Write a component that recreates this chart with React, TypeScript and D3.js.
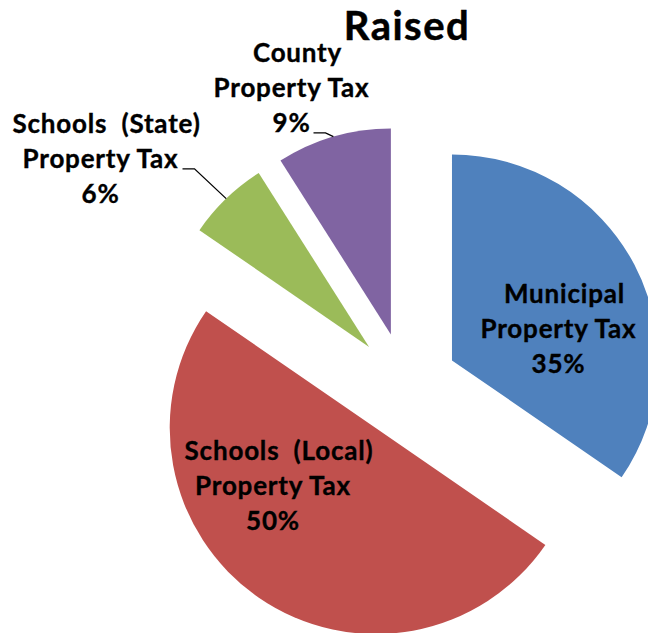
import React from "react";
import * as d3 from "d3";

const categories = ["Municipal", "Schools  (Local)", "Schools  (State)", "County"];
const subLabels = ["Property Tax", "Property Tax", "Property Tax", "Property Tax"];
const values = [34.6, 50.0, 6.4, 9.0];
const colors = ["#4F81BD", "#C0504D", "#9BBB59", "#8064A2"];
const titleText = "Raised";

const W = 648;
const H = 633;
const CX = 405.5;
const CY = 384.8;
const R = 206;
const EXPLODE = 52.5;
const FONT = "Lato, 'Open Sans', sans-serif";
const LINE = 35;

// label layout (relative to pie center): middle-line baseline position
const labelPos: [number, number][] = [
  [153, -47],
  [-132.5, 110],
  [-305, -217],
  [-114, -288],
];
// leader line start offsets relative to label (dx from center, which line)
const leaders: ({ dx: number; line: number } | null)[] = [null, null, { dx: 82, line: 1 }, { dx: 22, line: 2 }];

export default function App() {
  const total = d3.sum(values);
  const pie = d3
    .pie<number>()
    .sort(null)
    .startAngle(0)
    .endAngle(2 * Math.PI)
    .value((d) => d);
  const arcs = pie(values);
  const arcGen = d3.arc<d3.PieArcDatum<number>>().innerRadius(0).outerRadius(R);

  return (
    <svg
      width={W}
      height={H}
      style={{ position: "fixed", left: 0, top: 0, display: "block", background: "#fff" }}
    >
      <text
        x={407}
        y={40}
        textAnchor="middle"
        fontFamily={FONT}
        fontWeight="bold"
        fontSize={40}
        letterSpacing={1.5}
        stroke="#000"
        strokeWidth={0.5}
        fill="#000"
      >
        {titleText}
      </text>
      <g transform={`translate(${CX},${CY})`}>
        {arcs.map((a, i) => {
          const mid = (a.startAngle + a.endAngle) / 2;
          const ox = EXPLODE * Math.sin(mid);
          const oy = -EXPLODE * Math.cos(mid);
          return (
            <path
              key={i}
              d={arcGen(a) || ""}
              transform={`translate(${ox},${oy})`}
              fill={colors[i]}
            />
          );
        })}
        {arcs.map((a, i) => {
          const [lx, ly] = labelPos[i];
          const pct = `${Math.round((values[i] / total) * 100)}%`;
          const lines = [categories[i], subLabels[i], pct];
          const ld = leaders[i];
          let leader = null;
          if (ld) {
            const mid = (a.startAngle + a.endAngle) / 2;
            const px = (EXPLODE + R) * Math.sin(mid);
            const py = -(EXPLODE + R) * Math.cos(mid);
            const sx = lx + ld.dx;
            const sy = ly + (ld.line - 1) * LINE + 1;
            leader = (
              <polyline
                points={`${sx},${sy} ${sx + 12},${sy} ${px},${py}`}
                fill="none"
                stroke="#000"
                strokeWidth={1.3}
              />
            );
          }
          return (
            <g key={"l" + i}>
              {leader}
              {lines.map((t, j) => (
                <text
                  key={j}
                  x={lx + (j === 0 ? 6 : 0)}
                  y={ly + (j - 1) * LINE}
                  textAnchor="middle"
                  fontFamily={FONT}
                  fontWeight="bold"
                  fontSize={26}
                  letterSpacing={0.8}
                  stroke="#000"
                  strokeWidth={0.35}
                  fill="#000"
                  style={{ whiteSpace: "pre" }}
                >
                  {t}
                </text>
              ))}
            </g>
          );
        })}
      </g>
    </svg>
  );
}
